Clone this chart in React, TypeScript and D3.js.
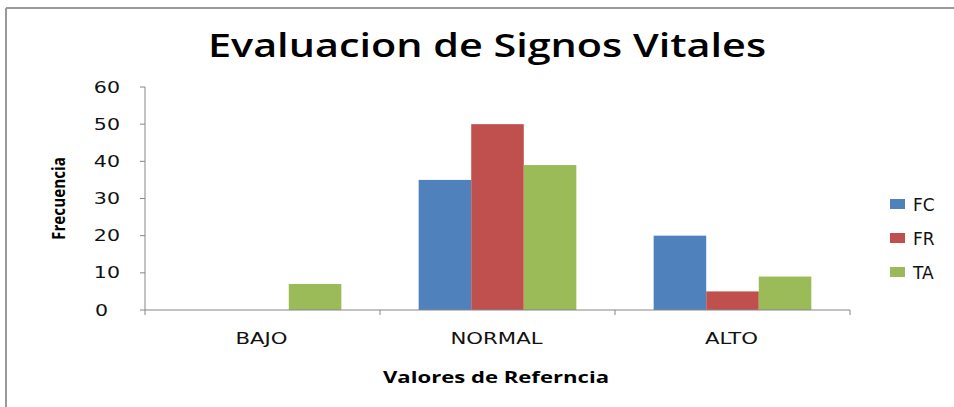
import React from "react";
import * as d3 from "d3";

const categories = ["BAJO", "NORMAL", "ALTO"];
const seriesNames = ["FC", "FR", "TA"];
const fcValues = [0, 35, 20];
const frValues = [0, 50, 5];
const taValues = [7, 39, 9];
const yTicks = [0, 10, 20, 30, 40, 50, 60];
const colors = ["#4F81BD", "#C0504D", "#9BBB59"];

const W = 954;
const H = 407;
const plot = { left: 145, right: 850, top: 87, bottom: 310 };

export default function App() {
  const seriesValues = [fcValues, frValues, taValues];
  const x0 = d3.scaleBand<string>().domain(categories).range([plot.left, plot.right]).paddingInner(0).paddingOuter(0);
  const groupPad = x0.bandwidth() * (77 / 234) / 2;
  const x1 = d3
    .scaleBand<string>()
    .domain(seriesNames)
    .range([groupPad, x0.bandwidth() - groupPad]);
  const y = d3.scaleLinear().domain([0, 60]).range([plot.bottom, plot.top]);
  const axisColor = "#868686";
  const boundaries = [...categories.map((c) => x0(c) as number), plot.right];

  return (
    <svg
      width={W}
      height={H}
      style={{ position: "absolute", left: 0, top: 0, background: "#fff" }}
    >
      <rect x={0} y={0} width={W} height={H} fill="#fff" />
      {/* frame */}
      <line x1={6} y1={8} x2={W} y2={8} stroke="#9a9a9a" strokeWidth={2} />
      <line x1={6} y1={8} x2={6} y2={H} stroke="#9a9a9a" strokeWidth={2} />

      <text
        x={487}
        y={57}
        textAnchor="middle"
        fontFamily="'Open Sans', sans-serif"
        fontWeight={600}
        fontSize={33}
        textLength={558}
        lengthAdjust="spacingAndGlyphs"
        fill="#000"
      >
        Evaluacion de Signos Vitales
      </text>

      {/* bars */}
      {categories.map((c, ci) => (
        <g key={c} transform={`translate(${x0(c)},0)`}>
          {seriesNames.map((s, si) => {
            const v = seriesValues[si][ci];
            if (v <= 0) return null;
            return (
              <rect
                key={s}
                x={x1(s)}
                y={y(v)}
                width={x1.bandwidth()}
                height={y(0) - y(v)}
                fill={colors[si]}
              />
            );
          })}
        </g>
      ))}

      {/* y axis */}
      <line x1={plot.left} y1={plot.top} x2={plot.left} y2={plot.bottom} stroke={axisColor} />
      {yTicks.map((t) => (
        <g key={t}>
          <line x1={plot.left - 5} x2={plot.left} y1={y(t)} y2={y(t)} stroke={axisColor} />
          <g transform={`translate(${t >= 10 ? 120 : 108},${y(t) + 5.5}) scale(1.37,1)`}>
            <text
              x={0}
              y={0}
              textAnchor="end"
              fontFamily="'DejaVu Sans', sans-serif"
              fontSize={15}
              fill="#111"
            >
              {t}
            </text>
          </g>
        </g>
      ))}

      {/* x axis */}
      <line x1={plot.left} y1={plot.bottom} x2={plot.right} y2={plot.bottom} stroke={axisColor} />
      {boundaries.map((b, i) => (
        <line key={i} x1={b} x2={b} y1={plot.bottom} y2={plot.bottom + 5} stroke={axisColor} />
      ))}
      {categories.map((c) => (
        <g
          key={c}
          transform={`translate(${(x0(c) as number) + x0.bandwidth() / 2 - 1},344) scale(1.33,1)`}
        >
          <text
            x={0}
            y={0}
            textAnchor="middle"
            fontFamily="'DejaVu Sans', sans-serif"
            fontSize={16}
            fill="#111"
          >
            {c}
          </text>
        </g>
      ))}

      <text
        x={496}
        y={383}
        textAnchor="middle"
        fontFamily="'Open Sans', sans-serif"
        fontWeight={700}
        fontSize={16.5}
        textLength={226}
        lengthAdjust="spacingAndGlyphs"
        fill="#000"
      >
        Valores de Referncia
      </text>
      <text
        transform="translate(65,198.5) rotate(-90)"
        textAnchor="middle"
        fontFamily="'Open Sans', sans-serif"
        fontWeight={700}
        fontSize={18}
        textLength={83}
        lengthAdjust="spacingAndGlyphs"
        fill="#000"
      >
        Frecuencia
      </text>

      {/* legend */}
      {seriesNames.map((s, i) => (
        <g key={s} transform={`translate(890,${199 + i * 34})`}>
          <rect x={0} y={0} width={15} height={10} fill={colors[i]} />
          <text
            x={23}
            y={11.5}
            fontFamily="'DejaVu Sans', sans-serif"
            fontSize={17}
            fill="#111"
          >
            {s}
          </text>
        </g>
      ))}
    </svg>
  );
}
